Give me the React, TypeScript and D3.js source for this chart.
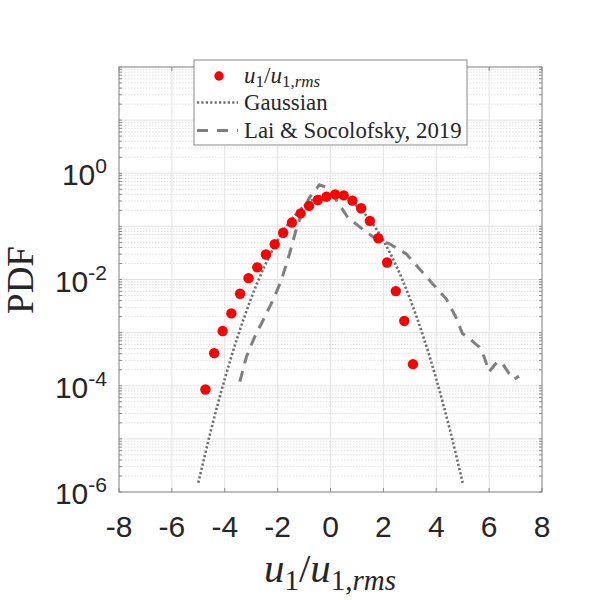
import * as d3 from 'd3';

// measured PDF of u1/u1,rms (red markers)
const dataX = [-4.73, -4.40, -4.08, -3.75, -3.42, -3.10, -2.77, -2.44, -2.11, -1.79, -1.46, -1.13, -0.81, -0.48, -0.15, 0.18, 0.50, 0.83, 1.16, 1.49, 1.81, 2.14, 2.47, 2.79, 3.12];
const dataY = [8.5e-5, 4.1e-4, 1.07e-3, 2.3e-3, 5.4e-3, 0.0106, 0.0169, 0.0296, 0.046, 0.076, 0.118, 0.176, 0.243, 0.314, 0.362, 0.40, 0.383, 0.305, 0.219, 0.127, 0.0598, 0.0209, 6.05e-3, 1.66e-3, 2.55e-4];

// Gaussian reference (dotted)
const gaussX = [-5, -4.5, -4, -3.5, -3, -2.5, -2, -1.5, -1, -0.5, 0, 0.5, 1, 1.5, 2, 2.5, 3, 3.5, 4, 4.5, 5];
const gaussY = [1.49e-6, 1.6e-5, 1.34e-4, 8.73e-4, 4.43e-3, 0.0175, 0.054, 0.1295, 0.242, 0.352, 0.399, 0.352, 0.242, 0.1295, 0.054, 0.0175, 4.43e-3, 8.73e-4, 1.34e-4, 1.6e-5, 1.49e-6];

// Lai & Socolofsky, 2019 (dashed)
const laiX = [-3.43, -3.18, -2.87, -2.55, -2.18, -1.86, -1.55, -1.29, -1.05, -0.79, -0.42, -0.16, 0.15, 0.65, 1.28, 1.72, 2.23, 2.86, 3.36, 3.86, 4.37, 4.74, 4.99, 5.18, 5.62, 5.81, 6.0, 6.31, 6.5, 6.75, 6.94, 7.13];
const laiY = [1.19e-4, 3.5e-4, 8.3e-4, 1.71e-3, 4.05e-3, 9.6e-3, 0.0305, 0.0897, 0.198, 0.351, 0.608, 0.542, 0.351, 0.148, 0.0834, 0.0582, 0.047, 0.0305, 0.016, 8.35e-3, 4.37e-3, 1.97e-3, 9.6e-4, 8.3e-4, 5.4e-4, 3.5e-4, 1.83e-4, 2.82e-4, 2.63e-4, 1.71e-4, 1.32e-4, 1.52e-4];

const xTicks = [-8, -6, -4, -2, 0, 2, 4, 6, 8];
const yTickExp = [-6, -4, -2, 0];

const SANS = '"Liberation Sans", Arial, sans-serif';
const SERIF = '"Liberation Serif", "Times New Roman", serif';

export default function App() {
  const left = 119, right = 542, top = 67, bottom = 492;
  const x = d3.scaleLinear().domain([-8, 8]).range([left, right]);
  const y = d3.scaleLog().domain([1e-6, 1e2]).range([bottom, top]);

  const minorY: number[] = [];
  for (let e = -6; e < 2; e++) {
    for (let k = 2; k <= 9; k++) minorY.push(k * Math.pow(10, e));
  }
  const decades = d3.range(-6, 3).map(e => Math.pow(10, e));

  const gaussPath = d3.line<[number, number]>()
    .x(d => x(d[0]))
    .y(d => y(d[1]))
    .curve(d3.curveMonotoneX)(gaussX.map((v, i) => [v, gaussY[i]]) as [number, number][]);
  const laiPath = d3.line<[number, number]>()
    .x(d => x(d[0]))
    .y(d => y(d[1]))(laiX.map((v, i) => [v, laiY[i]]) as [number, number][]);

  const axisColor = '#8a8a8a';
  const textColor = '#262626';

  return (
    <svg width={600} height={600} style={{ position: 'absolute', left: 0, top: 0, background: '#fff' }}>
      <rect x={left} y={top} width={right - left} height={bottom - top} fill="#fff" />
      {/* minor y grid */}
      {minorY.map((v, i) => (
        <line key={'mg' + i} x1={left} x2={right} y1={y(v)} y2={y(v)} stroke="#d8d8d8" strokeWidth={0.8} strokeDasharray="1.5,1.5" />
      ))}
      {/* decade grid */}
      {decades.map((v, i) => (
        <line key={'dg' + i} x1={left} x2={right} y1={y(v)} y2={y(v)} stroke="#e2e2e2" strokeWidth={1} />
      ))}
      {/* x grid */}
      {xTicks.map(t => (
        <line key={'xg' + t} x1={x(t)} x2={x(t)} y1={top} y2={bottom} stroke="#e2e2e2" strokeWidth={1} />
      ))}

      {/* Gaussian */}
      <path d={gaussPath || ''} fill="none" stroke="#6e6e6e" strokeWidth={2.6} strokeDasharray="2.2,2.2" />
      {/* Lai & Socolofsky */}
      <path d={laiPath || ''} fill="none" stroke="#7f7f7f" strokeWidth={3} strokeDasharray="11,8" />
      {/* data */}
      {dataX.map((v, i) => (
        <circle key={'d' + i} cx={x(v)} cy={y(dataY[i])} r={5.2} fill="#ff0000" />
      ))}

      {/* axis box */}
      <rect x={left} y={top} width={right - left} height={bottom - top} fill="none" stroke={axisColor} strokeWidth={1} />
      {/* ticks */}
      {xTicks.map(t => (
        <g key={'xt' + t}>
          <line x1={x(t)} x2={x(t)} y1={bottom} y2={bottom - 4} stroke={axisColor} />
          <line x1={x(t)} x2={x(t)} y1={top} y2={top + 4} stroke={axisColor} />
        </g>
      ))}
      {minorY.concat(decades).map((v, i) => (
        <g key={'yt' + i}>
          <line x1={left} x2={left + 3} y1={y(v)} y2={y(v)} stroke={axisColor} />
          <line x1={right} x2={right - 3} y1={y(v)} y2={y(v)} stroke={axisColor} />
        </g>
      ))}

      {/* x tick labels */}
      {xTicks.map(t => (
        <text key={'xl' + t} x={x(t)} y={537} textAnchor="middle" fontFamily={SANS} fontSize={30} fill={textColor}>
          {t < 0 ? '-' + Math.abs(t) : t}
        </text>
      ))}
      {/* y tick labels */}
      {yTickExp.map(e => (
        <text key={'yl' + e} x={107} y={y(Math.pow(10, e)) + 12} textAnchor="end" fontFamily={SANS} fontSize={30} fill={textColor}>
          10<tspan dy={-12} fontSize={21}>{e}</tspan>
        </text>
      ))}

      {/* axis labels */}
      <text transform="translate(33,280) rotate(-90)" textAnchor="middle" fontFamily={SERIF} fontSize={37} fill={textColor}>PDF</text>
      <text x={330} y={582} textAnchor="middle" fontFamily={SERIF} fontSize={41} fill={textColor}>
        <tspan fontStyle="italic">u</tspan>
        <tspan fontSize={29} dy={8}>1</tspan>
        <tspan dy={-8}>/</tspan>
        <tspan fontStyle="italic">u</tspan>
        <tspan fontSize={29} dy={8}>1,</tspan>
        <tspan fontSize={29} fontStyle="italic">rms</tspan>
      </text>

      {/* legend */}
      <rect x={194} y={60} width={273} height={85} fill="#fff" stroke={axisColor} strokeWidth={1} />
      <circle cx={219} cy={76} r={4.7} fill="#ff0000" />
      <text x={244} y={83} fontFamily={SERIF} fontSize={23} fill={textColor}>
        <tspan fontStyle="italic">u</tspan>
        <tspan fontSize={17} dy={4}>1</tspan>
        <tspan dy={-4}>/</tspan>
        <tspan fontStyle="italic">u</tspan>
        <tspan fontSize={17} dy={4}>1,</tspan>
        <tspan fontSize={17} fontStyle="italic">rms</tspan>
      </text>
      <line x1={197} x2={238} y1={102.5} y2={102.5} stroke="#6e6e6e" strokeWidth={2.4} strokeDasharray="2.2,2.2" />
      <text x={244} y={110} fontFamily={SERIF} fontSize={22.8} fill={textColor}>Gaussian</text>
      <line x1={197} x2={238} y1={130.5} y2={130.5} stroke="#7f7f7f" strokeWidth={3} strokeDasharray="11,9" />
      <text x={244} y={138} fontFamily={SERIF} fontSize={22.8} fill={textColor}>Lai &amp; Socolofsky, 2019</text>
    </svg>
  );
}
